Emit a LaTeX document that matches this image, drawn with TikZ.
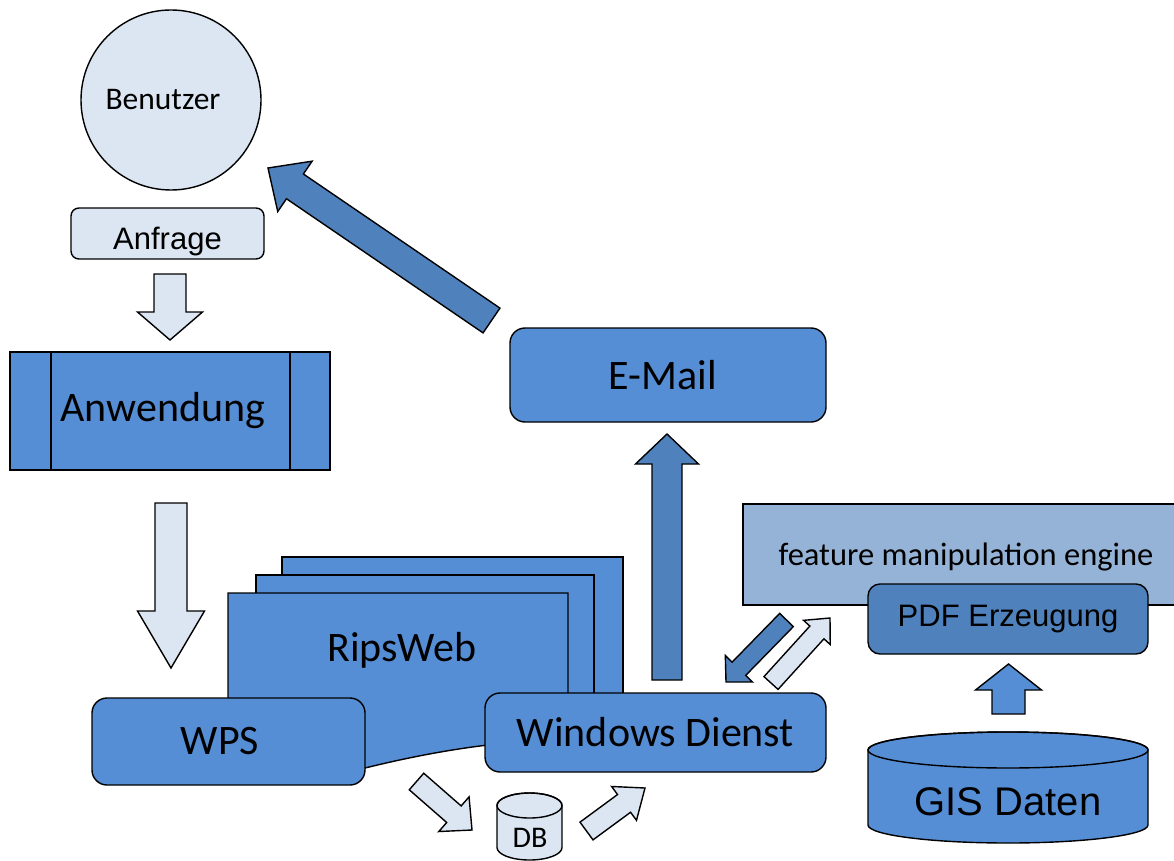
\documentclass[tikz,border=0pt]{standalone}
\usepackage{fontspec}
\setmainfont{Carlito}
\newfontfamily\arialfont{Liberation Sans}
\usetikzlibrary{calc}

\definecolor{boxblue}{HTML}{558ED5}
\definecolor{darkblue}{HTML}{4F81BD}
\definecolor{paleblue}{HTML}{DCE6F2}
\definecolor{fmeblue}{HTML}{95B3D7}

% block arrow: #1 style, #2 tail, #3 tip, #4 half shaft width, #5 half head width, #6 head length
\newcommand{\blockarrow}[6]{%
  \coordinate (ba-base) at ($(#3)!#6!(#2)$);
  \filldraw[#1] ($(#2)!#4!90:(#3)$) -- ($(ba-base)!#4!90:(#3)$)
    -- ($(ba-base)!#5!90:(#3)$) -- (#3) -- ($(ba-base)!#5!-90:(#3)$)
    -- ($(ba-base)!#4!-90:(#3)$) -- ($(#2)!#4!-90:(#3)$) -- cycle;}

\tikzset{
  outline/.style={draw=black, line width=1.4pt},
  box/.style={outline, rectangle, inner sep=0pt, text=black},
  bigtext/.style={font=\fontsize{42}{50}\selectfont},
  midtext/.style={font=\fontsize{31.5}{37}\selectfont},
  arialbig/.style={font=\arialfont\fontsize{40}{48}\selectfont},
  arialmid/.style={font=\arialfont\fontsize{31}{37}\selectfont},
  palearrow/.style={outline, fill=paleblue},
  darkarrow/.style={outline, fill=darkblue},
  bluearrow/.style={outline, fill=boxblue},
}

\begin{document}
\begin{tikzpicture}[x=1pt, y=-1pt]
\useasboundingbox (0,0) rectangle (1174,861);

% user and request
\node[box, circle, fill=paleblue, minimum size=180pt, midtext] (benutzer) at (171,100) {\hspace*{-16pt}Benutzer};
\node[box, fill=paleblue, rounded corners=8pt, minimum width=193pt, minimum height=51pt, arialmid] (anfrage) at (167.5,233.5) {\raisebox{-16pt}[0pt][0pt]{Anfrage}};

\coordinate (a1s) at (170,274);
\coordinate (a1e) at (170,340);
\blockarrow{palearrow}{a1s}{a1e}{16pt}{32.5pt}{28pt}

% application with side bars
\node[box, fill=boxblue, minimum width=320pt, minimum height=118pt, bigtext] (anwendung) at (170,411) {\hspace*{-14pt}Anwendung};
\draw[outline] (51,352) -- (51,470);
\draw[outline] (290,352) -- (290,470);

\coordinate (a2s) at (171,503);
\coordinate (a2e) at (171,668);
\blockarrow{palearrow}{a2s}{a2e}{16pt}{33.5pt}{57pt}

% RipsWeb document stack
\filldraw[outline, fill=boxblue] (282,557) rectangle (623,725);
\filldraw[outline, fill=boxblue] (256,575) rectangle (594,725);
\filldraw[outline, fill=boxblue] (228,593) -- (568,593) -- (568,740)
  .. controls (500,740) and (430,752) .. (365,768)
  .. controls (300,782) and (260,775) .. (228,768) -- cycle;
\node[bigtext] (ripsweb) at (402,650) {RipsWeb};

% services
\node[box, fill=boxblue, rounded corners=15pt, minimum width=273pt, minimum height=87pt, bigtext] (wps) at (228.5,741.5) {\hspace*{-17pt}WPS};
\node[box, fill=boxblue, rounded corners=15pt, minimum width=341pt, minimum height=79pt, bigtext] (dienst) at (655.5,732.5) {Windows Dienst};
\node[box, fill=boxblue, rounded corners=15pt, minimum width=316pt, minimum height=94pt, bigtext] (email) at (668,375) {\hspace*{-10pt}E-Mail};

\coordinate (a3s) at (491.5,320.5);
\coordinate (a3e) at (268,168);
\blockarrow{darkarrow}{a3s}{a3e}{15pt}{30.5pt}{32.6pt}

\coordinate (a4s) at (667,680);
\coordinate (a4e) at (667,434);
\blockarrow{darkarrow}{a4s}{a4e}{15pt}{31.5pt}{30pt}

% feature manipulation engine and PDF generation
\fill[fmeblue] (743,504) rectangle (1174,605);
\draw[outline] (1174,504) -- (743,504) -- (743,605) -- (1174,605);
\node[font=\fontsize{32.5}{38}\selectfont] (fme) at (966,557) {feature manipulation engine};
\node[box, fill=darkblue, rounded corners=12pt, minimum width=280pt, minimum height=70pt, arialmid] (pdf) at (1008,619) {PDF Erzeugung};

\coordinate (a5s) at (786.5,620);
\coordinate (a5e) at (726,682);
\blockarrow{darkarrow}{a5s}{a5e}{9.5pt}{19pt}{18.5pt}

\coordinate (a6s) at (771,683);
\coordinate (a6e) at (830,618);
\blockarrow{palearrow}{a6s}{a6e}{9.5pt}{18pt}{19.5pt}

% GIS data store
\filldraw[outline, fill=boxblue] (868,750) -- (868,825)
  arc[start angle=180, end angle=0, x radius=140, y radius=18] -- (1148,750)
  arc[start angle=0, end angle=-180, x radius=140, y radius=18] -- cycle;
\draw[outline] (1008,750) ellipse [x radius=140, y radius=18];
\node[arialbig] (gis) at (1008,802) {GIS Daten};

\coordinate (a9s) at (1008.5,714);
\coordinate (a9e) at (1008.5,664);
\blockarrow{bluearrow}{a9s}{a9e}{16.5pt}{33pt}{26pt}

% database
\filldraw[outline, fill=paleblue] (497,805.5) -- (497,847.5)
  arc[start angle=180, end angle=0, x radius=32.5, y radius=12.5] -- (562,805.5)
  arc[start angle=0, end angle=-180, x radius=32.5, y radius=12.5] -- cycle;
\draw[outline] (529.5,805.5) ellipse [x radius=32.5, y radius=12.5];
\node[font=\fontsize{30}{36}\selectfont] (db) at (530,838) {DB};

\coordinate (a7s) at (416.5,781.5);
\coordinate (a7e) at (472,830);
\blockarrow{palearrow}{a7s}{a7e}{11pt}{23pt}{24pt}

\coordinate (a8s) at (586.5,831);
\coordinate (a8e) at (645,788);
\blockarrow{palearrow}{a8s}{a8e}{11pt}{21pt}{26pt}
\end{tikzpicture}
\end{document}
